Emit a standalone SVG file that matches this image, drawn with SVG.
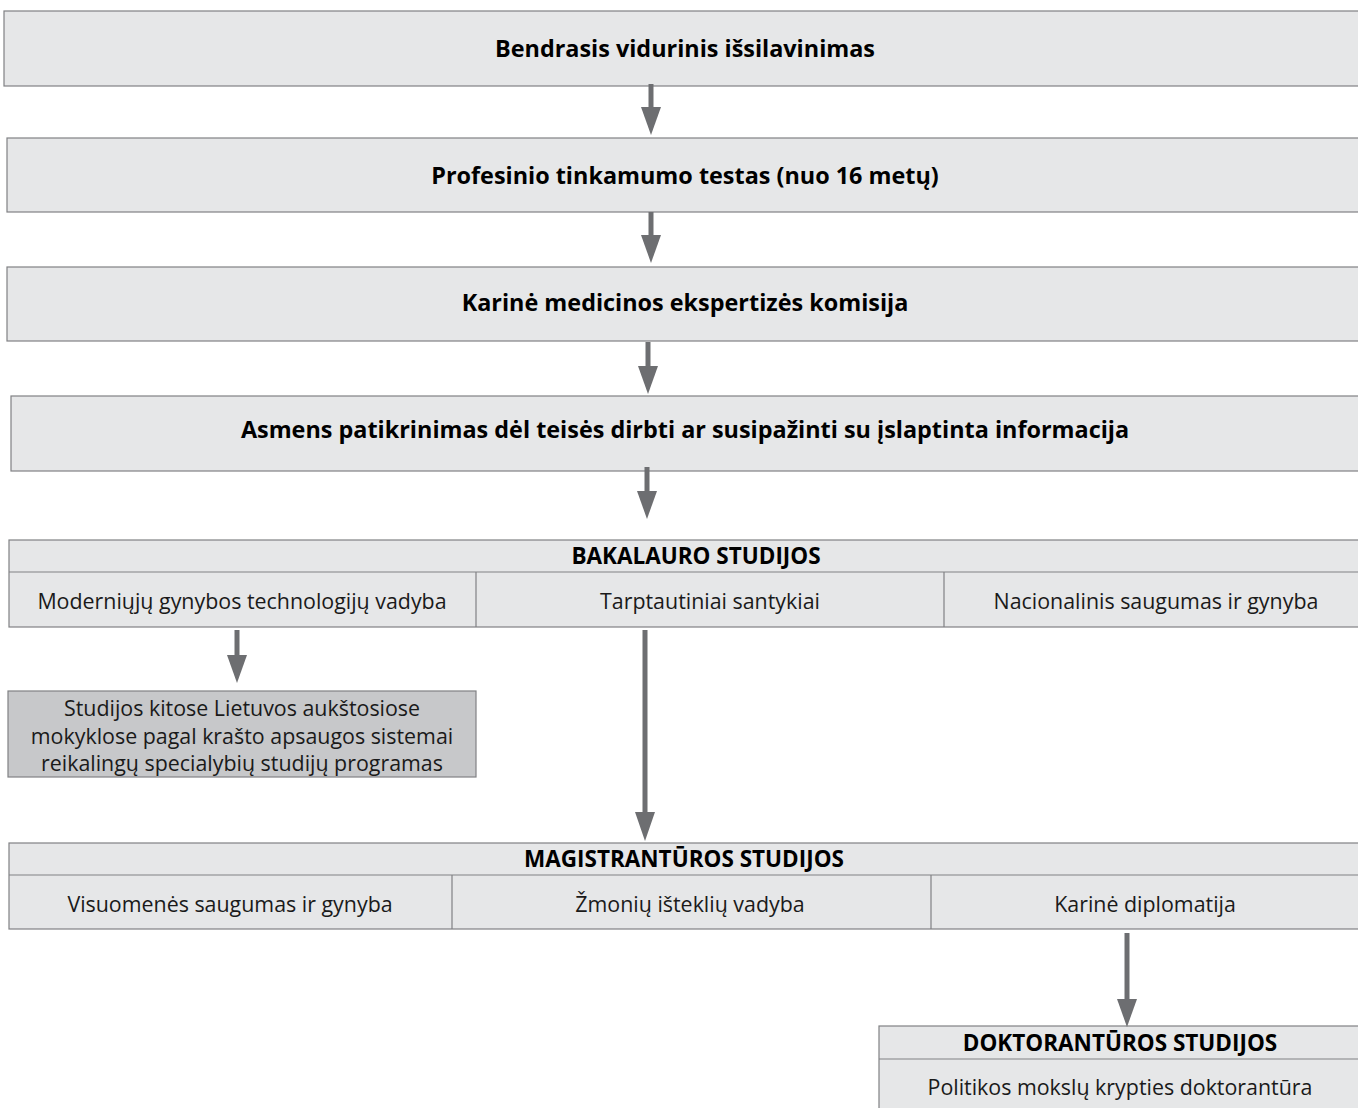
<svg xmlns="http://www.w3.org/2000/svg" width="1358" height="1108" viewBox="0 0 1358 1108">
<defs>
<style>
.box{fill:#e6e7e8;stroke:#808184;stroke-width:1.2}
.dark{fill:#c7c8ca;stroke:#808184;stroke-width:1.2}
.ln{stroke:#808184;stroke-width:1.2}
.b{font-family:"Open Sans","Liberation Sans",sans-serif;font-weight:bold;font-size:23.4px;fill:#000;text-anchor:middle}
.h{font-size:22.5px}
.r{font-family:"Open Sans","Liberation Sans",sans-serif;font-size:21.4px;fill:#1a1a1a;text-anchor:middle}
.shaft{stroke:#6d6e71;stroke-width:5}
.head{fill:#6d6e71}
</style>
</defs>
<g id="n1"><rect class="box" x="4" y="11" width="1360" height="75"/><text class="b" x="685" y="57">Bendrasis vidurinis išsilavinimas</text></g>
<g id="n2"><rect class="box" x="7" y="138" width="1360" height="74"/><text class="b" x="685" y="184">Profesinio tinkamumo testas (nuo 16 metų)</text></g>
<g id="n3"><rect class="box" x="7" y="267" width="1360" height="74"/><text class="b" x="685" y="311">Karinė medicinos ekspertizės komisija</text></g>
<g id="n4"><rect class="box" x="11" y="396" width="1360" height="75"/><text class="b" x="685" y="438">Asmens patikrinimas dėl teisės dirbti ar susipažinti su įslaptinta informacija</text></g>
<g id="bak"><rect class="box" x="9" y="540" width="1360" height="87"/><line class="ln" x1="9" y1="572" x2="1358" y2="572"/><line class="ln" x1="476" y1="572" x2="476" y2="627"/><line class="ln" x1="944" y1="572" x2="944" y2="627"/>
<text class="b h" x="696" y="564">BAKALAURO STUDIJOS</text>
<text class="r" x="242" y="609">Moderniųjų gynybos technologijų vadyba</text>
<text class="r" x="710" y="609">Tarptautiniai santykiai</text>
<text class="r" x="1156" y="609">Nacionalinis saugumas ir gynyba</text></g>
<g id="kitos"><rect class="dark" x="8" y="691" width="468" height="86"/>
<text class="r" x="242" y="716">Studijos kitose Lietuvos aukštosiose</text>
<text class="r" x="242" y="744">mokyklose pagal krašto apsaugos sistemai</text>
<text class="r" x="242" y="771">reikalingų specialybių studijų programas</text></g>
<g id="mag"><rect class="box" x="9" y="843" width="1360" height="86"/><line class="ln" x1="9" y1="875" x2="1358" y2="875"/><line class="ln" x1="452" y1="875" x2="452" y2="929"/><line class="ln" x1="931" y1="875" x2="931" y2="929"/>
<text class="b h" x="684" y="867">MAGISTRANTŪROS STUDIJOS</text>
<text class="r" x="230" y="912">Visuomenės saugumas ir gynyba</text>
<text class="r" x="690" y="912">Žmonių išteklių vadyba</text>
<text class="r" x="1145" y="912">Karinė diplomatija</text></g>
<g id="dok"><rect class="box" x="879" y="1026" width="490" height="90"/><line class="ln" x1="879" y1="1059" x2="1358" y2="1059"/>
<text class="b h" x="1120" y="1051">DOKTORANTŪROS STUDIJOS</text>
<text class="r" x="1120" y="1095">Politikos mokslų krypties doktorantūra</text></g>
<g id="connectors">
<line class="shaft" x1="651" y1="84" x2="651" y2="108"/><polygon class="head" points="641,107 661,107 651,135"/>
<line class="shaft" x1="651" y1="212" x2="651" y2="236"/><polygon class="head" points="641,235 661,235 651,263"/>
<line class="shaft" x1="648" y1="342" x2="648" y2="367"/><polygon class="head" points="638,366 658,366 648,394"/>
<line class="shaft" x1="647" y1="467" x2="647" y2="492"/><polygon class="head" points="637,491 657,491 647,519"/>
<line class="shaft" x1="237" y1="630" x2="237" y2="656"/><polygon class="head" points="227,655 247,655 237,683"/>
<line class="shaft" x1="645" y1="630" x2="645" y2="813"/><polygon class="head" points="635,812 655,812 645,841"/>
<line class="shaft" x1="1127" y1="933" x2="1127" y2="1000"/><polygon class="head" points="1117,999 1137,999 1127,1027"/>
</g>
</svg>
